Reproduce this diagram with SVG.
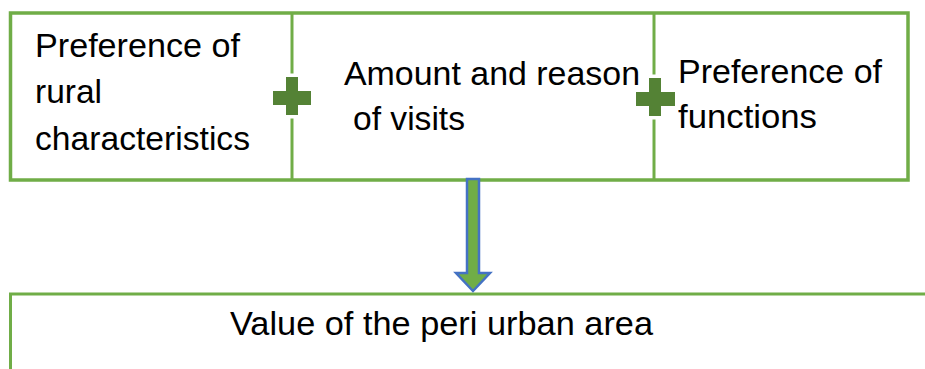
<svg xmlns="http://www.w3.org/2000/svg" width="925" height="369" viewBox="0 0 925 369">
  <style>
    .box { fill: #ffffff; stroke: #70AD47; stroke-width: 3.5; }
    .div { stroke: #70AD47; stroke-width: 3; fill: none; }
    .plus { fill: #548235; stroke: #ffffff; stroke-width: 7; paint-order: stroke; stroke-linejoin: miter; }
    .t { font-family: "Liberation Sans", Arial, sans-serif; font-size: 33.5px; fill: #000000; }
    .arrow { fill: #70AD47; stroke: #4472C4; stroke-width: 2.5; stroke-linejoin: miter; }
  </style>
  <rect width="925" height="369" fill="#ffffff"/>

  <g id="top-box">
    <rect class="box" x="10.5" y="13" width="897.5" height="167"/>
  </g>

  <g id="node-rural">
    <text class="t" x="35" y="57" textLength="205" lengthAdjust="spacingAndGlyphs">Preference of</text>
    <text class="t" x="35" y="103" textLength="67" lengthAdjust="spacingAndGlyphs">rural</text>
    <text class="t" x="35" y="150" textLength="215" lengthAdjust="spacingAndGlyphs">characteristics</text>
  </g>

  <g id="node-visits">
    <line class="div" x1="292" y1="13" x2="292" y2="180"/>
    <text class="t" x="344" y="85" textLength="296" lengthAdjust="spacingAndGlyphs">Amount and reason</text>
    <text class="t" x="353" y="130" textLength="112" lengthAdjust="spacingAndGlyphs">of visits</text>
  </g>

  <g id="node-functions">
    <line class="div" x1="654" y1="13" x2="654" y2="180"/>
    <text class="t" x="678" y="83" textLength="204" lengthAdjust="spacingAndGlyphs">Preference of</text>
    <text class="t" x="678" y="128" textLength="139" lengthAdjust="spacingAndGlyphs">functions</text>
  </g>

  <g id="plus-1">
    <path class="plus" d="M286,77 H298 V91 H311 V105 H298 V115 H286 V105 H273 V91 H286 Z"/>
  </g>
  <g id="plus-2">
    <path class="plus" d="M649,78 H661 V92 H675 V106 H661 V116 H649 V106 H636 V92 H649 Z"/>
  </g>

  <g id="node-value">
    <path class="div" d="M10.5,369 V294 H925" stroke-width="3.5"/>
    <text class="t" x="230" y="335" textLength="423" lengthAdjust="spacingAndGlyphs">Value of the peri urban area</text>
  </g>

  <g id="connectors">
    <polygon class="arrow" points="467,179 479,179 479,273 490,273 473,291 456,273 467,273"/>
  </g>
</svg>
